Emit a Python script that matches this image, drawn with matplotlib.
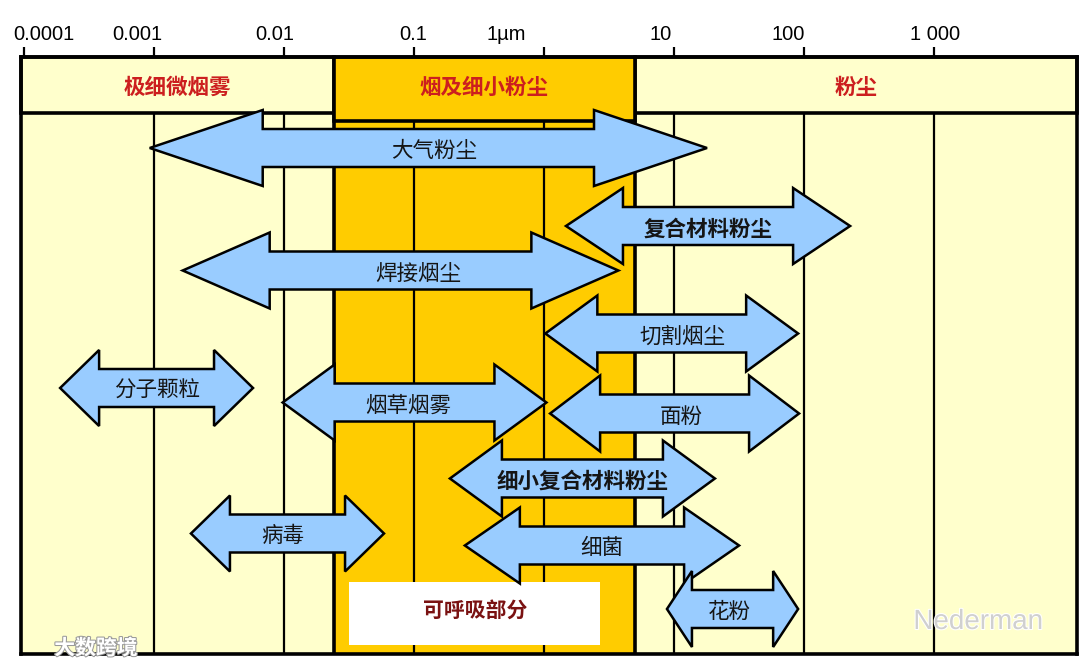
import matplotlib
matplotlib.use('Agg')
import matplotlib.pyplot as plt
from matplotlib.patches import Rectangle, Polygon
from matplotlib.transforms import ScaledTranslation
import matplotlib.patheffects as pe

# ---------------- data ----------------
decade_ticks = [1e-4, 1e-3, 1e-2, 1e-1, 1, 10, 100, 1000]
tick_labels = ['0.0001', '0.001', '0.01', '0.1', '1µm', '10', '100', '1 000']

zone_names = ['极细微烟雾', '烟及细小粉尘', '粉尘']
zone_edges = [0.024, 5.0]          # boundaries between the three zones (µm)

respirable_label = '可呼吸部分'
respirable_range = [0.0317, 2.70]  # µm

particles = ['大气粉尘', '复合材料粉尘', '焊接烟尘', '切割烟尘', '面粉', '分子颗粒',
             '烟草烟雾', '细小复合材料粉尘', '病毒', '细菌', '花粉']
size_min = [0.00092, 1.47, 0.00165, 1.02, 1.11, 0.000188, 0.0097, 0.188, 0.00191, 0.245, 8.8]
size_max = [17.9, 226, 3.72, 90, 91.5, 0.00574, 1.04, 20.6, 0.0585, 31.6, 90]

# ---------------- layout / style ----------------
row_y = [148, 226, 270.5, 333.5, 413.5, 388, 402.5, 478.5, 533.5, 545.5, 609]
head_px = [113, 57, 87, 52, 50, 39, 52, 52, 39, 55, 25]
label_dx = [6, 0, 18, 11, 7, 0, -6, 0, -5, 0, -3]
label_bold = [False, True, False, False, False, False, False, True, False, False, False]
tick_dx = [19, -17, -10, -1, -38, -14, -16, 1]

YELLOW = '#FFFFCC'
ORANGE = '#FFCC00'
BLUE = '#99CCFF'
RED = '#CC1F1F'
CJK = ['Noto Sans CJK SC', 'DejaVu Sans']

W, H = 1080, 663
fig = plt.figure(figsize=(W / 100, H / 100), dpi=100)
fig.patch.set_facecolor('white')
ax = fig.add_axes([21 / W, 1 - 654 / H, (1077 - 21) / W, (654 - 57) / H])
ax.set_xscale('log')
XMIN, XMAX = 9.4e-5, 1.26e4
ax.set_xlim(XMIN, XMAX)
ax.set_ylim(654, 57)
ax.set_facecolor(YELLOW)

HEAD_TOP, HEAD_BOT, HEAD_BOT_MID = 57, 113, 121
BOT = 654

# orange band in body
ax.add_patch(Rectangle((zone_edges[0], HEAD_BOT), zone_edges[1] - zone_edges[0], BOT - HEAD_BOT,
                       facecolor=ORANGE, edgecolor='none', zorder=0.5))
# decade grid lines
ax.vlines(decade_ticks[1:], HEAD_BOT, BOT, colors='black', lw=1.6, zorder=1)
# band edges
ax.vlines(zone_edges, HEAD_BOT, BOT, colors='black', lw=2.6, zorder=1.2)

# header cells
ax.add_patch(Rectangle((XMIN, HEAD_TOP), zone_edges[0] - XMIN, HEAD_BOT - HEAD_TOP,
                       facecolor=YELLOW, edgecolor='black', lw=2.6, zorder=2, clip_on=False))
ax.add_patch(Rectangle((zone_edges[1], HEAD_TOP), XMAX - zone_edges[1], HEAD_BOT - HEAD_TOP,
                       facecolor=YELLOW, edgecolor='black', lw=2.6, zorder=2, clip_on=False))
ax.add_patch(Rectangle((zone_edges[0], HEAD_TOP), zone_edges[1] - zone_edges[0], HEAD_BOT_MID - HEAD_TOP,
                       facecolor=ORANGE, edgecolor='black', lw=2.6, zorder=2.1, clip_on=False))
zone_x = [(XMIN * zone_edges[0]) ** 0.5, (zone_edges[0] * zone_edges[1]) ** 0.5,
          (zone_edges[1] * XMAX) ** 0.5]
for name, zx in zip(zone_names, zone_x):
    ax.text(zx, 87, name, ha='center', va='center', fontsize=15.5, fontweight='bold',
            color=RED, family=CJK, zorder=6)

# respirable box
ax.add_patch(Rectangle((respirable_range[0], 581.6), respirable_range[1] - respirable_range[0], 63.7,
                       facecolor='white', edgecolor='none', zorder=2.5))
ax.text((respirable_range[0] * respirable_range[1]) ** 0.5, 610, respirable_label,
        ha='center', va='center', fontsize=15, fontweight='bold', color='#7A1212',
        family=CJK, zorder=6)

# arrows
fig.canvas.draw()
to_disp = ax.transData
to_data = ax.transData.inverted()
HH, SH = 38, 19
for name, lo, hi, y, hp, dx, bold in zip(particles, size_min, size_max, row_y,
                                          head_px, label_dx, label_bold):
    xl = to_disp.transform((lo, y))[0]
    xr = to_disp.transform((hi, y))[0]
    lb = to_data.transform((xl + hp, 0))[0]
    rb = to_data.transform((xr - hp, 0))[0]
    pts = [(lo, y), (lb, y - HH), (lb, y - SH), (rb, y - SH), (rb, y - HH), (hi, y),
           (rb, y + HH), (rb, y + SH), (lb, y + SH), (lb, y + HH)]
    ax.add_patch(Polygon(pts, closed=True, facecolor=BLUE, edgecolor='black',
                         lw=1.8, joinstyle='miter', zorder=4))
    off = ScaledTranslation(dx / 100, 0, fig.dpi_scale_trans)
    ax.text((lo * hi) ** 0.5, y + 3, name, ha='center', va='center', fontsize=15.5,
            fontweight='bold' if bold else 'normal', color='#151515', family=CJK,
            transform=ax.transData + off, zorder=6)

# axis ticks on top
ax.xaxis.tick_top()
ax.set_xticks(decade_ticks)
ax.set_xticklabels([''] * len(decade_ticks))
ax.xaxis.set_minor_locator(matplotlib.ticker.NullLocator())
ax.tick_params(axis='x', which='major', length=7, width=1.6, direction='out', color='black')
ax.set_yticks([])
for v, lab, dx in zip(decade_ticks, tick_labels, tick_dx):
    off = ScaledTranslation(dx / 100, 0, fig.dpi_scale_trans)
    ax.text(v, 34, lab, ha='center', va='center', fontsize=14.5, family='Liberation Sans',
            transform=ax.transData + off, clip_on=False)

for s in ax.spines.values():
    s.set_linewidth(2.6)
    s.set_zorder(7)

# watermarks
fig.text(96 / W, 1 - 648 / H, '大数跨境', ha='center', va='center', fontsize=15,
         fontweight='bold', color='white', family=CJK,
         path_effects=[pe.withStroke(linewidth=1.5, foreground='#9a9a9a')], zorder=10)
fig.text(978 / W, 1 - 622 / H, 'Nederman', ha='center', va='center', fontsize=20,
         color='#d0d0d0', family='Liberation Sans',
         path_effects=[pe.withStroke(linewidth=1.5, foreground='white')], zorder=10)

fig.savefig('out.png', dpi=100, facecolor='white')
